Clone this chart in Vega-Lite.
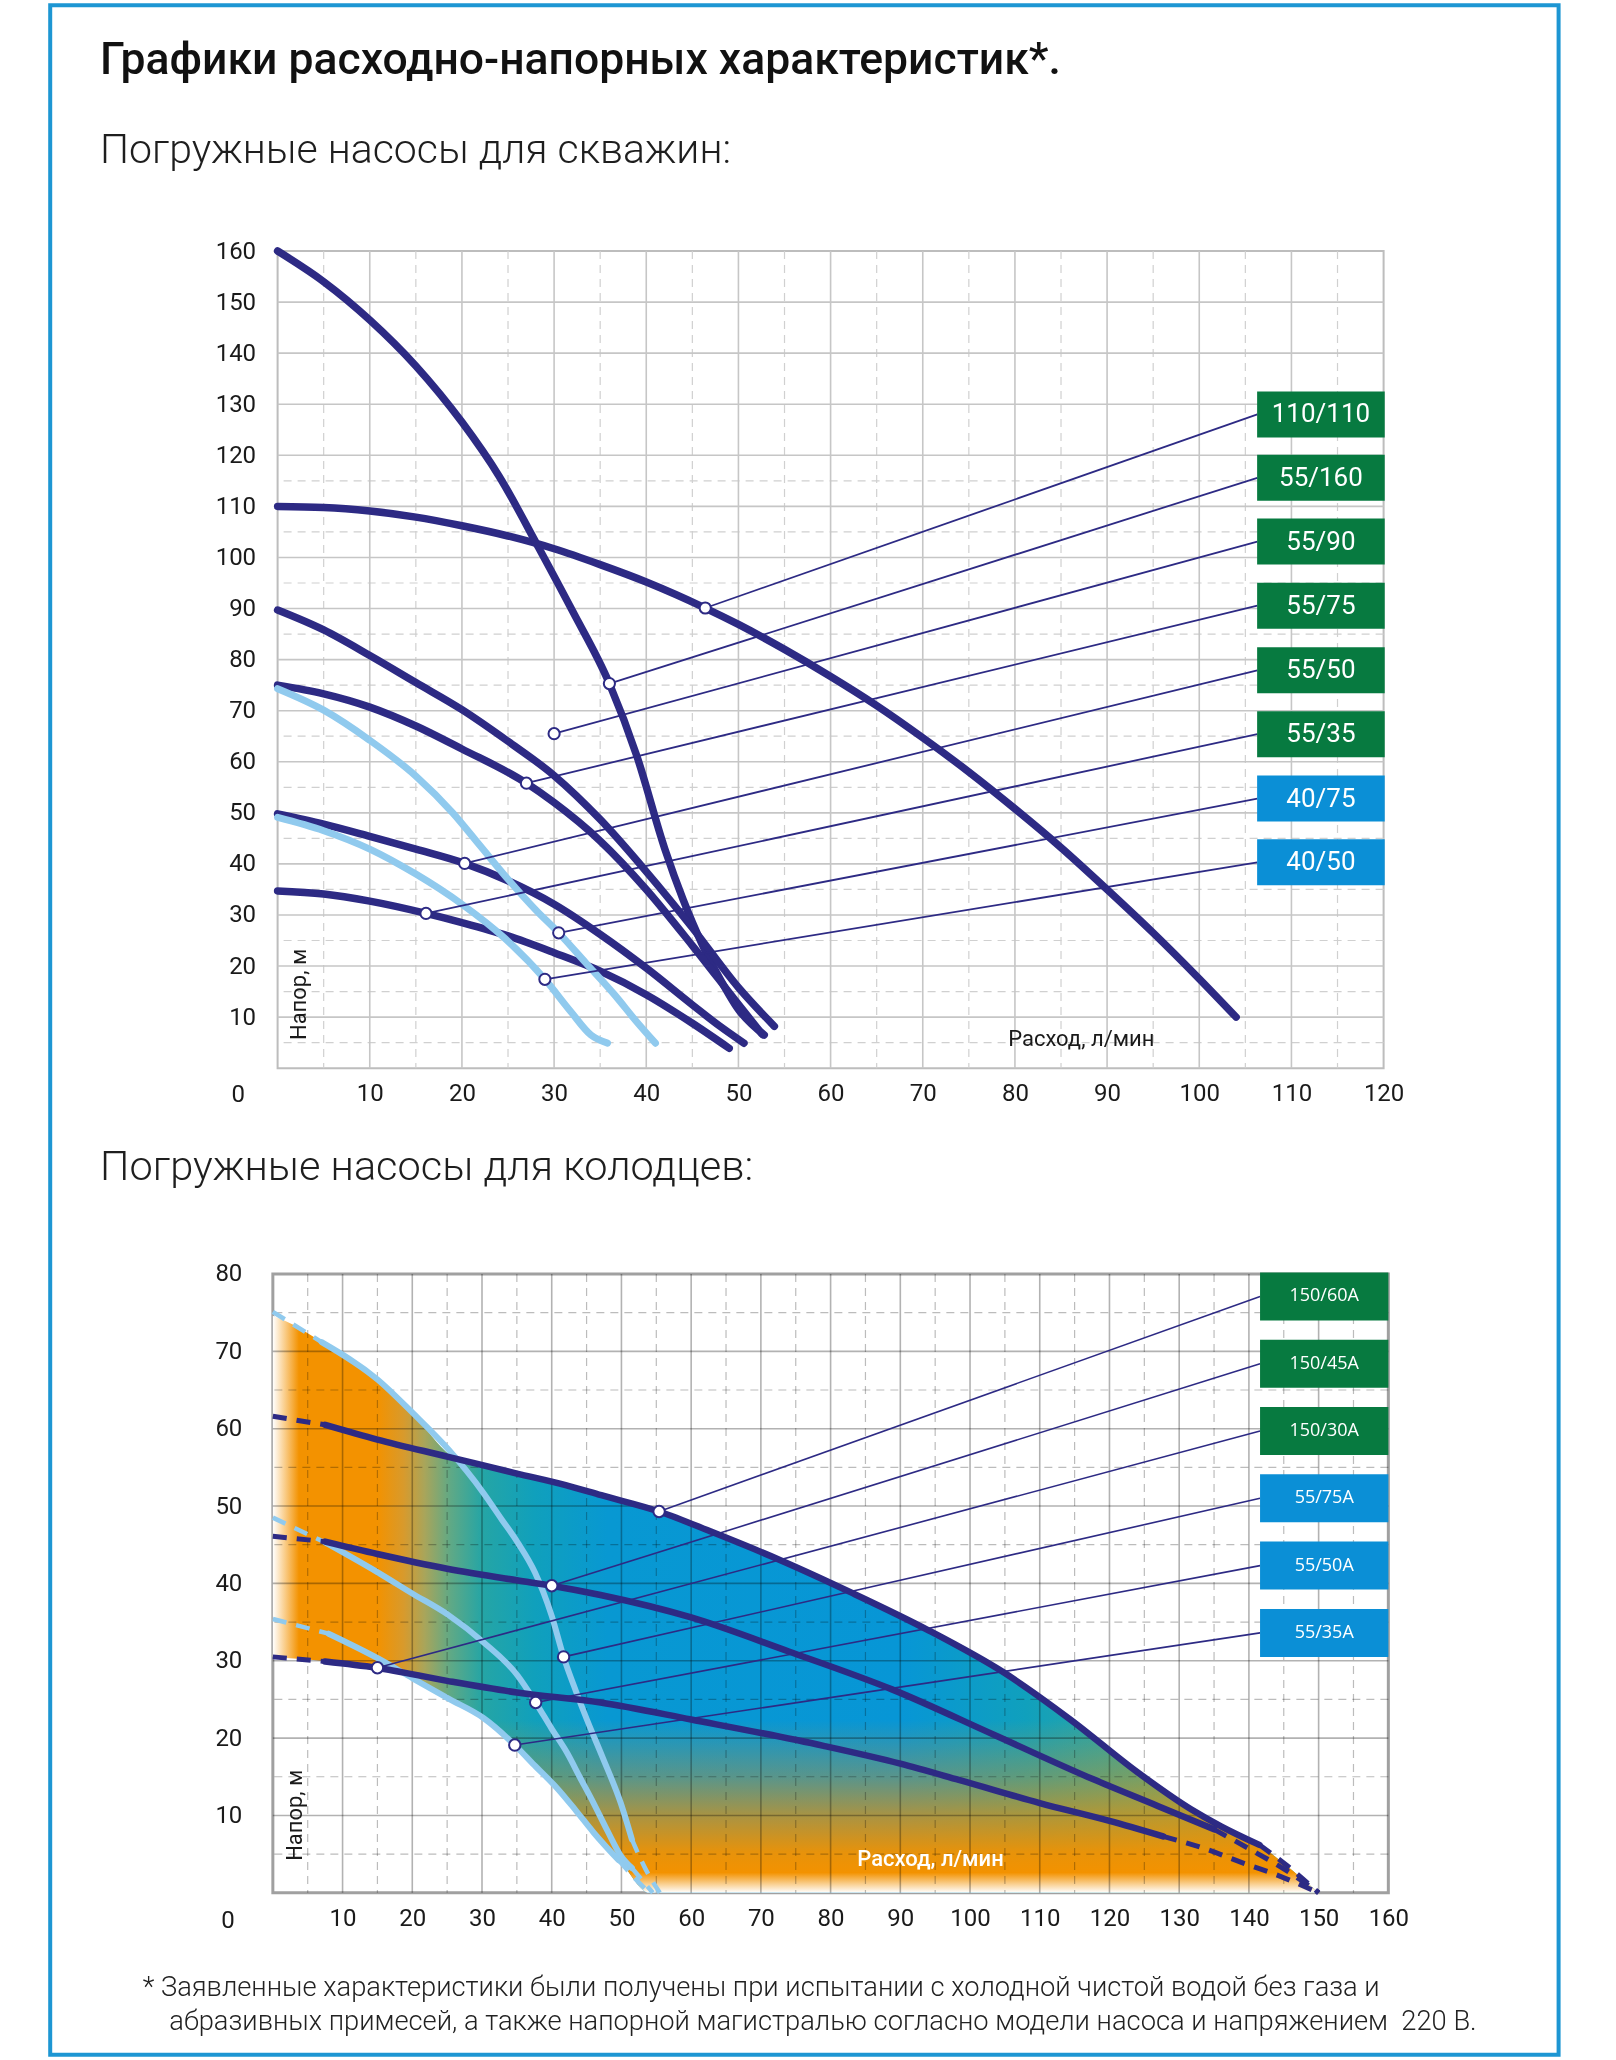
{
  "$schema": "https://vega.github.io/schema/vega-lite/v6.json",
  "padding": {"left": 46.6, "top": 2, "right": 57, "bottom": 5},
  "background": "white",
  "config": {"font": "Roboto", "view": {"stroke": null}},
  "spacing": 205,
  "bounds": "flush",
  "center": true,
  "datasets": {
    "top": [
      {"s":"110/110","q":0,"h":110},{"s":"110/110","q":5,"h":109.8},{"s":"110/110","q":10,"h":109.1},{"s":"110/110","q":15,"h":107.9},{"s":"110/110","q":20,"h":106.2},{"s":"110/110","q":25,"h":104.2},{"s":"110/110","q":30,"h":101.7},{"s":"110/110","q":35,"h":98.6},{"s":"110/110","q":40,"h":95.2},{"s":"110/110","q":46.4,"h":90.1},{"s":"110/110","q":50,"h":86.9},{"s":"110/110","q":55,"h":82},{"s":"110/110","q":60,"h":76.7},{"s":"110/110","q":65,"h":71},{"s":"110/110","q":70,"h":64.7},{"s":"110/110","q":75,"h":58},{"s":"110/110","q":80,"h":50.8},{"s":"110/110","q":85,"h":43.2},{"s":"110/110","q":90,"h":35},{"s":"110/110","q":95,"h":26.5},{"s":"110/110","q":100,"h":17.5},{"s":"110/110","q":104,"h":10},
      {"s":"55/160","q":0,"h":160},{"s":"55/160","q":5,"h":154},{"s":"55/160","q":10,"h":146.5},{"s":"55/160","q":15,"h":137.5},{"s":"55/160","q":20,"h":126.5},{"s":"55/160","q":24,"h":116},{"s":"55/160","q":28.3,"h":102},{"s":"55/160","q":32,"h":89.5},{"s":"55/160","q":36,"h":75.3},{"s":"55/160","q":39,"h":61},{"s":"55/160","q":42,"h":43},{"s":"55/160","q":44,"h":33},{"s":"55/160","q":46,"h":24.5},{"s":"55/160","q":48,"h":17.5},{"s":"55/160","q":50,"h":11.5},{"s":"55/160","q":52.8,"h":6.5},
      {"s":"55/90","q":0,"h":89.7},{"s":"55/90","q":5,"h":85.8},{"s":"55/90","q":10,"h":80.8},{"s":"55/90","q":15,"h":75.5},{"s":"55/90","q":20,"h":70.2},{"s":"55/90","q":25,"h":64},{"s":"55/90","q":30,"h":57.3},{"s":"55/90","q":35,"h":48.7},{"s":"55/90","q":40,"h":38.5},{"s":"55/90","q":45,"h":27.5},{"s":"55/90","q":50,"h":15.8},{"s":"55/90","q":53.9,"h":8.2},
      {"s":"55/75","q":0,"h":75},{"s":"55/75","q":5,"h":73.3},{"s":"55/75","q":10,"h":70.7},{"s":"55/75","q":15,"h":67},{"s":"55/75","q":20,"h":62.5},{"s":"55/75","q":27,"h":55.8},{"s":"55/75","q":30,"h":52},{"s":"55/75","q":35,"h":44.5},{"s":"55/75","q":40,"h":35},{"s":"55/75","q":45,"h":24},{"s":"55/75","q":50,"h":12.5},{"s":"55/75","q":52.6,"h":6.6},
      {"s":"55/50","q":0,"h":49.8},{"s":"55/50","q":5,"h":47.8},{"s":"55/50","q":10,"h":45.4},{"s":"55/50","q":15,"h":42.9},{"s":"55/50","q":20.3,"h":40.1},{"s":"55/50","q":25,"h":36.7},{"s":"55/50","q":30,"h":32.1},{"s":"55/50","q":35,"h":26.2},{"s":"55/50","q":40,"h":19.6},{"s":"55/50","q":45,"h":12.4},{"s":"55/50","q":48,"h":8.2},{"s":"55/50","q":50.6,"h":4.9},
      {"s":"55/35","q":0,"h":34.7},{"s":"55/35","q":5,"h":34.1},{"s":"55/35","q":10,"h":32.7},{"s":"55/35","q":16.1,"h":30.3},{"s":"55/35","q":20,"h":28.5},{"s":"55/35","q":25,"h":25.9},{"s":"55/35","q":30,"h":22.6},{"s":"55/35","q":35,"h":19},{"s":"55/35","q":40,"h":14.4},{"s":"55/35","q":45,"h":8.8},{"s":"55/35","q":49,"h":3.9},
      {"s":"40/75","q":0,"h":74.3},{"s":"40/75","q":5,"h":70.1},{"s":"40/75","q":10,"h":64.2},{"s":"40/75","q":15,"h":57.2},{"s":"40/75","q":19,"h":50},{"s":"40/75","q":22,"h":43.5},{"s":"40/75","q":25,"h":37},{"s":"40/75","q":28,"h":31},{"s":"40/75","q":30.5,"h":26.5},{"s":"40/75","q":33.5,"h":20.5},{"s":"40/75","q":36.5,"h":14.5},{"s":"40/75","q":39,"h":9},{"s":"40/75","q":41,"h":4.9},
      {"s":"40/50","q":0,"h":49.1},{"s":"40/50","q":5,"h":46.5},{"s":"40/50","q":10,"h":42.9},{"s":"40/50","q":15,"h":38},{"s":"40/50","q":20,"h":32.1},{"s":"40/50","q":24.6,"h":25.5},{"s":"40/50","q":29,"h":17.4},{"s":"40/50","q":31.8,"h":11.1},{"s":"40/50","q":34,"h":6.5},{"s":"40/50","q":35.8,"h":4.9}
    ],
    "topLabels": [
      {"model":"110/110","mx":46.4,"my":90.1,"ly":128},
      {"model":"55/160","mx":36,"my":75.3,"ly":115.6},
      {"model":"55/90","mx":30,"my":65.5,"ly":103.1},
      {"model":"55/75","mx":27,"my":55.8,"ly":90.55},
      {"model":"55/50","mx":20.3,"my":40.1,"ly":77.9},
      {"model":"55/35","mx":16.1,"my":30.3,"ly":65.4},
      {"model":"40/75","mx":30.5,"my":26.5,"ly":52.8},
      {"model":"40/50","mx":29,"my":17.4,"ly":40.3}
    ],
    "bot": [
      {"s":"150/60A","seg":"main","q":7.5,"h":60.5},{"s":"150/60A","seg":"main","q":15,"h":58.6},{"s":"150/60A","seg":"main","q":25,"h":56.4},{"s":"150/60A","seg":"main","q":35,"h":54.2},{"s":"150/60A","seg":"main","q":42,"h":52.7},{"s":"150/60A","seg":"main","q":47.1,"h":51.4},{"s":"150/60A","seg":"main","q":55.4,"h":49.3},{"s":"150/60A","seg":"main","q":63.1,"h":46.6},{"s":"150/60A","seg":"main","q":72.8,"h":43},{"s":"150/60A","seg":"main","q":83,"h":38.8},{"s":"150/60A","seg":"main","q":93.9,"h":34},{"s":"150/60A","seg":"main","q":104.8,"h":28.5},{"s":"150/60A","seg":"main","q":114.4,"h":22.4},{"s":"150/60A","seg":"main","q":124,"h":15.6},{"s":"150/60A","seg":"main","q":131.7,"h":10.8},{"s":"150/60A","seg":"main","q":136,"h":8.6},{"s":"150/60A","seg":"main","q":141.5,"h":6.2},
      {"s":"150/60A","seg":"d1","q":0,"h":61.6},{"s":"150/60A","seg":"d1","q":7.5,"h":60.5},
      {"s":"150/60A","seg":"d2","q":141.5,"h":6.2},{"s":"150/60A","seg":"d2","q":145.5,"h":3.5},{"s":"150/60A","seg":"d2","q":150,"h":0},
      {"s":"150/45A","seg":"main","q":7.5,"h":45.4},{"s":"150/45A","seg":"main","q":15,"h":43.8},{"s":"150/45A","seg":"main","q":25,"h":41.9},{"s":"150/45A","seg":"main","q":35,"h":40.4},{"s":"150/45A","seg":"main","q":40,"h":39.7},{"s":"150/45A","seg":"main","q":47,"h":38.5},{"s":"150/45A","seg":"main","q":60,"h":35.6},{"s":"150/45A","seg":"main","q":74,"h":31.2},{"s":"150/45A","seg":"main","q":88.8,"h":26.3},{"s":"150/45A","seg":"main","q":103.5,"h":20.4},{"s":"150/45A","seg":"main","q":117.6,"h":14.7},{"s":"150/45A","seg":"main","q":127,"h":11.2},{"s":"150/45A","seg":"main","q":135,"h":8.2},
      {"s":"150/45A","seg":"d1","q":0,"h":46.1},{"s":"150/45A","seg":"d1","q":7.5,"h":45.4},
      {"s":"150/45A","seg":"d2","q":135,"h":8.2},{"s":"150/45A","seg":"d2","q":140,"h":5.7},{"s":"150/45A","seg":"d2","q":145,"h":3.1},{"s":"150/45A","seg":"d2","q":150,"h":0},
      {"s":"150/30A","seg":"main","q":7.5,"h":29.9},{"s":"150/30A","seg":"main","q":14.8,"h":29.1},{"s":"150/30A","seg":"main","q":25,"h":27.4},{"s":"150/30A","seg":"main","q":35,"h":25.9},{"s":"150/30A","seg":"main","q":47,"h":24.6},{"s":"150/30A","seg":"main","q":60,"h":22.4},{"s":"150/30A","seg":"main","q":79,"h":19},{"s":"150/30A","seg":"main","q":90,"h":16.7},{"s":"150/30A","seg":"main","q":98.4,"h":14.6},{"s":"150/30A","seg":"main","q":110,"h":11.6},{"s":"150/30A","seg":"main","q":120,"h":9.3},{"s":"150/30A","seg":"main","q":127.7,"h":7.3},
      {"s":"150/30A","seg":"d1","q":0,"h":30.5},{"s":"150/30A","seg":"d1","q":7.5,"h":29.9},
      {"s":"150/30A","seg":"d2","q":127.7,"h":7.3},{"s":"150/30A","seg":"d2","q":134,"h":5.6},{"s":"150/30A","seg":"d2","q":139,"h":3.9},{"s":"150/30A","seg":"d2","q":144.6,"h":2.1},{"s":"150/30A","seg":"d2","q":150,"h":0},
      {"s":"55/75A","seg":"main","q":7,"h":71.2},{"s":"55/75A","seg":"main","q":15.1,"h":66.3},{"s":"55/75A","seg":"main","q":20.1,"h":62},{"s":"55/75A","seg":"main","q":25.2,"h":57.3},{"s":"55/75A","seg":"main","q":30.2,"h":51.7},{"s":"55/75A","seg":"main","q":32.8,"h":48.3},{"s":"55/75A","seg":"main","q":35.1,"h":45.3},{"s":"55/75A","seg":"main","q":37.6,"h":41.4},{"s":"55/75A","seg":"main","q":40,"h":35.8},{"s":"55/75A","seg":"main","q":41.7,"h":30.5},{"s":"55/75A","seg":"main","q":43.5,"h":26},{"s":"55/75A","seg":"main","q":45,"h":22.5},{"s":"55/75A","seg":"main","q":47.3,"h":17.5},{"s":"55/75A","seg":"main","q":49.9,"h":11.6},{"s":"55/75A","seg":"main","q":51.5,"h":6.9},
      {"s":"55/75A","seg":"d1","q":0,"h":75.1},{"s":"55/75A","seg":"d1","q":7,"h":71.2},
      {"s":"55/75A","seg":"d2","q":51.5,"h":6.9},{"s":"55/75A","seg":"d2","q":53.5,"h":3},{"s":"55/75A","seg":"d2","q":55.5,"h":0},
      {"s":"55/50A","seg":"main","q":7.5,"h":45.3},{"s":"55/50A","seg":"main","q":15.1,"h":41.4},{"s":"55/50A","seg":"main","q":20,"h":38.7},{"s":"55/50A","seg":"main","q":25.2,"h":35.9},{"s":"55/50A","seg":"main","q":30.2,"h":32.4},{"s":"55/50A","seg":"main","q":35.1,"h":28.1},{"s":"55/50A","seg":"main","q":37.7,"h":24.6},{"s":"55/50A","seg":"main","q":40,"h":21.2},{"s":"55/50A","seg":"main","q":42.2,"h":18.1},{"s":"55/50A","seg":"main","q":44,"h":15},{"s":"55/50A","seg":"main","q":46,"h":11.6},{"s":"55/50A","seg":"main","q":48,"h":8},{"s":"55/50A","seg":"main","q":49.9,"h":4.8},{"s":"55/50A","seg":"main","q":51.5,"h":3.2},
      {"s":"55/50A","seg":"d1","q":0,"h":48.5},{"s":"55/50A","seg":"d1","q":7.5,"h":45.3},
      {"s":"55/50A","seg":"d2","q":51.5,"h":3.2},{"s":"55/50A","seg":"d2","q":54.5,"h":0},
      {"s":"55/35A","seg":"main","q":8,"h":33.5},{"s":"55/35A","seg":"main","q":15.1,"h":30.3},{"s":"55/35A","seg":"main","q":20.1,"h":27.7},{"s":"55/35A","seg":"main","q":25.2,"h":25.1},{"s":"55/35A","seg":"main","q":30.2,"h":22.6},{"s":"55/35A","seg":"main","q":34.7,"h":19.1},{"s":"55/35A","seg":"main","q":37.5,"h":16.5},{"s":"55/35A","seg":"main","q":40.9,"h":13.4},{"s":"55/35A","seg":"main","q":43.5,"h":10.6},{"s":"55/35A","seg":"main","q":46,"h":7.8},{"s":"55/35A","seg":"main","q":49.6,"h":4.2},
      {"s":"55/35A","seg":"d1","q":0,"h":35.4},{"s":"55/35A","seg":"d1","q":8,"h":33.5},
      {"s":"55/35A","seg":"d2","q":49.6,"h":4.2},{"s":"55/35A","seg":"d2","q":52,"h":1.8},{"s":"55/35A","seg":"d2","q":54,"h":0}
    ],
    "botLabels": [
      {"model":"150/60A","mx":55.4,"my":49.3,"ly":77.1},
      {"model":"150/45A","mx":40,"my":39.7,"ly":68.4},
      {"model":"150/30A","mx":15,"my":29.1,"ly":59.7},
      {"model":"55/75A","mx":41.7,"my":30.5,"ly":51.0},
      {"model":"55/50A","mx":37.7,"my":24.6,"ly":42.3},
      {"model":"55/35A","mx":34.7,"my":19.1,"ly":33.6}
    ],
    "fill": [
      {"q":0,"top":74.6,"bot":30.5},{"q":3,"top":73.4,"bot":30.3},{"q":7,"top":71.2,"bot":30.0},{"q":10,"top":69.5,"bot":29.7},{"q":14.8,"top":66.4,"bot":29.1},{"q":17,"top":64.5,"bot":29.1},{"q":20,"top":62.0,"bot":27.7},{"q":25.5,"top":56.6,"bot":24.8},{"q":30,"top":55.3,"bot":22.7},{"q":35,"top":54.2,"bot":18.9},{"q":40,"top":53.1,"bot":14.2},{"q":45,"top":51.9,"bot":8.8},{"q":50,"top":50.7,"bot":3.9},{"q":54,"top":49.7,"bot":0},{"q":63.1,"top":46.6,"bot":0},{"q":72.8,"top":43,"bot":0},{"q":83,"top":38.8,"bot":0},{"q":93.9,"top":34,"bot":0},{"q":104.8,"top":28.5,"bot":0},{"q":114.4,"top":22.4,"bot":0},{"q":124,"top":15.6,"bot":0},{"q":131.7,"top":10.8,"bot":0},{"q":136,"top":8.6,"bot":0},{"q":141.5,"top":6.2,"bot":0},{"q":145,"top":3.8,"bot":0},{"q":150,"top":0,"bot":0}
    ]
  },
  "vconcat": [
    {
      "width": 1106,
      "height": 817.2,
      "view": {"stroke": "#bdbdbd", "strokeWidth": 2},
      "title": {
        "text": "Графики расходно-напорных характеристик*.",
        "subtitle": "Погружные насосы для скважин:",
        "anchor": "start", "frame": "group", "dx": -177.6, "offset": -169,
        "font": "Roboto", "fontSize": 44.5, "fontWeight": 500, "color": "#111111",
        "subtitleFont": "Roboto", "subtitleFontSize": 41, "subtitleFontWeight": 300, "subtitleColor": "#1e1e1e",
        "subtitlePadding": 48
      },
      "layer": [
        {
          "data": {"values": [{}]},
          "mark": {"type": "rect", "filled": false, "stroke": "#1d96d3", "strokeWidth": 4},
          "encoding": {
            "x": {"datum": -24.672, "type": "quantitative", "scale": {"domain": [0, 120], "nice": false, "zero": false},
              "axis": {"values": [10,20,30,40,50,60,70,80,90,100,110,120], "title": null, "grid": false, "domain": false, "ticks": false, "labelFontSize": 24, "labelColor": "#1a1a1a", "labelPadding": 13, "labelFlush": false}},
            "x2": {"datum": 138.987},
            "y": {"datum": 208.14, "type": "quantitative", "scale": {"domain": [0, 160], "nice": false, "zero": false},
              "axis": {"values": [0,10,20,30,40,50,60,70,80,90,100,110,120,130,140,150,160], "title": null, "grid": false, "domain": false, "ticks": false, "labelFontSize": 24, "labelColor": "#1a1a1a", "labelFlush": false,
                "labelPadding": {"condition": {"test": "datum.value === 0", "value": 33}, "value": 22},
                "labelOffset": {"condition": {"test": "datum.value === 0", "value": 26}, "value": 0}}},
            "y2": {"datum": -193.14}
          }
        },
        {
          "data": {"values": [{"v":5},{"v":15},{"v":25},{"v":35},{"v":45},{"v":55},{"v":65},{"v":75},{"v":85},{"v":95},{"v":105},{"v":115}]},
          "mark": {"type": "rule", "color": "#d0d0d0", "strokeWidth": 1.2, "strokeDash": [8, 6]},
          "encoding": {"x": {"field": "v", "type": "quantitative"}}
        },
        {
          "data": {"values": [{"v":5},{"v":15},{"v":25},{"v":35},{"v":45},{"v":55},{"v":65},{"v":75},{"v":85},{"v":95},{"v":105},{"v":115}]},
          "mark": {"type": "rule", "color": "#d0d0d0", "strokeWidth": 1.2, "strokeDash": [8, 6]},
          "encoding": {"y": {"field": "v", "type": "quantitative"}}
        },
        {
          "data": {"values": [{"v":10},{"v":20},{"v":30},{"v":40},{"v":50},{"v":60},{"v":70},{"v":80},{"v":90},{"v":100},{"v":110}]},
          "mark": {"type": "rule", "color": "#c6c6c6", "strokeWidth": 1.6},
          "encoding": {"x": {"field": "v", "type": "quantitative"}}
        },
        {
          "data": {"values": [{"v":10},{"v":20},{"v":30},{"v":40},{"v":50},{"v":60},{"v":70},{"v":80},{"v":90},{"v":100},{"v":110},{"v":120},{"v":130},{"v":140},{"v":150}]},
          "mark": {"type": "rule", "color": "#c6c6c6", "strokeWidth": 1.6},
          "encoding": {"y": {"field": "v", "type": "quantitative"}}
        },
        {
          "data": {"name": "top"},
          "transform": [{"filter": {"field": "s", "oneOf": ["110/110", "55/160", "55/90", "55/75", "55/50", "55/35"]}}],
          "mark": {"type": "line", "color": "#2d2a84", "strokeWidth": 7.5, "strokeCap": "round", "interpolate": "monotone"},
          "encoding": {
            "x": {"field": "q", "type": "quantitative"},
            "y": {"field": "h", "type": "quantitative"},
            "detail": {"field": "s"}
          }
        },
        {
          "data": {"name": "top"},
          "transform": [{"filter": {"field": "s", "oneOf": ["40/75", "40/50"]}}],
          "mark": {"type": "line", "color": "#90caee", "strokeWidth": 7, "strokeCap": "round", "interpolate": "monotone"},
          "encoding": {
            "x": {"field": "q", "type": "quantitative"},
            "y": {"field": "h", "type": "quantitative"},
            "detail": {"field": "s"}
          }
        },
        {
          "data": {"name": "topLabels"},
          "mark": {"type": "rule", "color": "#2d2a84", "strokeWidth": 1.8},
          "encoding": {
            "x": {"field": "mx", "type": "quantitative"},
            "y": {"field": "my", "type": "quantitative"},
            "x2": {"datum": 106.3},
            "y2": {"field": "ly"}
          }
        },
        {
          "data": {"name": "topLabels"},
          "mark": {"type": "point", "shape": "circle", "filled": true, "fill": "white", "stroke": "#2d2a84", "strokeWidth": 2, "size": 125, "opacity": 1},
          "encoding": {
            "x": {"field": "mx", "type": "quantitative"},
            "y": {"field": "my", "type": "quantitative"}
          }
        },
        {
          "data": {"name": "topLabels"},
          "transform": [{"filter": {"field": "model", "oneOf": ["110/110", "55/160", "55/90", "55/75", "55/50", "55/35"]}}],
          "mark": {"type": "point", "shape": "M-1,-0.3605H1V0.3605H-1Z", "size": 16282, "filled": true, "color": "#077a40", "opacity": 1, "strokeWidth": 0},
          "encoding": {
            "x": {"datum": 113.2, "type": "quantitative"},
            "y": {"field": "ly", "type": "quantitative"}
          }
        },
        {
          "data": {"name": "topLabels"},
          "transform": [{"filter": {"field": "model", "oneOf": ["40/75", "40/50"]}}],
          "mark": {"type": "point", "shape": "M-1,-0.3605H1V0.3605H-1Z", "size": 16282, "filled": true, "color": "#0b8fd6", "opacity": 1, "strokeWidth": 0},
          "encoding": {
            "x": {"datum": 113.2, "type": "quantitative"},
            "y": {"field": "ly", "type": "quantitative"}
          }
        },
        {
          "data": {"name": "topLabels"},
          "mark": {"type": "text", "color": "white", "fontSize": 26, "align": "center", "baseline": "middle", "font": "Roboto"},
          "encoding": {
            "x": {"datum": 113.2, "type": "quantitative"},
            "y": {"field": "ly", "type": "quantitative"},
            "text": {"field": "model"}
          }
        },
        {
          "data": {"values": [{}]},
          "mark": {"type": "text", "text": "Расход, л/мин", "color": "#1a1a1a", "fontSize": 22, "align": "center", "baseline": "middle"},
          "encoding": {"x": {"datum": 87.2, "type": "quantitative"}, "y": {"datum": 5.66, "type": "quantitative"}}
        },
        {
          "data": {"values": [{}]},
          "mark": {"type": "text", "text": "Напор, м", "color": "#1a1a1a", "fontSize": 22, "align": "center", "baseline": "middle", "angle": 270},
          "encoding": {"x": {"datum": 2.28, "type": "quantitative"}, "y": {"datum": 14.45, "type": "quantitative"}}
        }
      ]
    },
    {
      "width": 1115.5,
      "height": 618.8,
      "view": {"stroke": "#a0a0a0", "strokeWidth": 3},
      "title": {
        "text": "Погружные насосы для колодцев:",
        "anchor": "start", "frame": "group", "dx": -172.8, "offset": 40, "baseline": "alphabetic",
        "font": "Roboto", "fontSize": 41.5, "fontWeight": 300, "color": "#1e1e1e"
      },
      "layer": [
        {
          "data": {"name": "fill"},
          "mark": {"type": "area", "interpolate": "monotone", "opacity": 1,
            "fill": {"gradient": "linear", "x1": 0, "y1": 0, "x2": 1, "y2": 0, "stops": [
              {"offset": 0, "color": "#ffffff"},
              {"offset": 0.025, "color": "#f39200"},
              {"offset": 0.1, "color": "#f39200"},
              {"offset": 0.125, "color": "#d89a2c"},
              {"offset": 0.145, "color": "#a9a55a"},
              {"offset": 0.17, "color": "#5fa986"},
              {"offset": 0.2, "color": "#25a5a5"},
              {"offset": 0.25, "color": "#10a0bc"},
              {"offset": 0.32, "color": "#0898d2"},
              {"offset": 0.6, "color": "#0796d6"},
              {"offset": 0.72, "color": "#10a0bd"},
              {"offset": 0.85, "color": "#3aa896"},
              {"offset": 1, "color": "#6aa870"}
            ]}},
          "encoding": {
            "x": {"field": "q", "type": "quantitative", "scale": {"domain": [0, 160], "nice": false, "zero": false},
              "axis": {"values": [10,20,30,40,50,60,70,80,90,100,110,120,130,140,150,160], "grid": false, "domain": false, "ticks": false, "labelFontSize": 24, "labelColor": "#1a1a1a", "labelPadding": 14, "labelFlush": false,
                "title": ["* Заявленные характеристики были получены при испытании с холодной чистой водой без газа и", "\u200b\u00a0\u00a0\u00a0\u00a0абразивных примесей, а также напорной магистралью согласно модели насоса и напряжением\u00a0 220 В."],
                "titleX": -130.65, "titleY": 103, "titleAlign": "left", "titleBaseline": "alphabetic", "titleFont": "Roboto", "titleFontSize": 27.3, "titleFontWeight": 300, "titleLineHeight": 34, "titleColor": "#222222"}},
            "y": {"field": "top", "type": "quantitative", "scale": {"domain": [0, 80], "nice": false, "zero": false},
              "axis": {"values": [0,10,20,30,40,50,60,70,80], "title": null, "grid": false, "domain": false, "ticks": false, "labelFontSize": 24, "labelColor": "#1a1a1a", "labelFlush": false,
                "labelPadding": {"condition": {"test": "datum.value === 0", "value": 38.5}, "value": 31},
                "labelOffset": {"condition": {"test": "datum.value === 0", "value": 27.4}, "value": 0}}},
            "y2": {"field": "bot"}
          }
        },
        {
          "data": {"name": "fill"},
          "mark": {"type": "area", "interpolate": "monotone", "opacity": 1,
            "fill": {"gradient": "linear", "x1": 0, "y1": 0, "x2": 0, "y2": 1, "stops": [
              {"offset": 0, "color": "rgba(243,146,0,0)"},
              {"offset": 0.7, "color": "rgba(243,146,0,0)"},
              {"offset": 0.8, "color": "rgba(243,146,0,0.35)"},
              {"offset": 0.87, "color": "rgba(243,146,0,0.7)"},
              {"offset": 0.93, "color": "rgba(243,146,0,0.95)"},
              {"offset": 0.965, "color": "rgba(243,146,0,1)"},
              {"offset": 1, "color": "rgba(255,255,255,1)"}
            ]}},
          "encoding": {
            "x": {"field": "q", "type": "quantitative"},
            "y": {"field": "top", "type": "quantitative"},
            "y2": {"field": "bot"}
          }
        },
        {
          "data": {"values": [{"v":5},{"v":15},{"v":25},{"v":35},{"v":45},{"v":55},{"v":65},{"v":75},{"v":85},{"v":95},{"v":105},{"v":115},{"v":125},{"v":135},{"v":145},{"v":155}]},
          "mark": {"type": "rule", "color": "#bcbcbc", "strokeWidth": 1.2, "strokeDash": [8, 6], "blend": "multiply"},
          "encoding": {"x": {"field": "v", "type": "quantitative"}}
        },
        {
          "data": {"values": [{"v":5},{"v":15},{"v":25},{"v":35},{"v":45},{"v":55},{"v":65},{"v":75}]},
          "mark": {"type": "rule", "color": "#bcbcbc", "strokeWidth": 1.2, "strokeDash": [8, 6], "blend": "multiply"},
          "encoding": {"y": {"field": "v", "type": "quantitative"}}
        },
        {
          "data": {"values": [{"v":10},{"v":20},{"v":30},{"v":40},{"v":50},{"v":60},{"v":70},{"v":80},{"v":90},{"v":100},{"v":110},{"v":120},{"v":130},{"v":140},{"v":150}]},
          "mark": {"type": "rule", "color": "#b2b2b2", "strokeWidth": 1.6, "blend": "multiply"},
          "encoding": {"x": {"field": "v", "type": "quantitative"}}
        },
        {
          "data": {"values": [{"v":10},{"v":20},{"v":30},{"v":40},{"v":50},{"v":60},{"v":70}]},
          "mark": {"type": "rule", "color": "#b2b2b2", "strokeWidth": 1.6, "blend": "multiply"},
          "encoding": {"y": {"field": "v", "type": "quantitative"}}
        },
        {
          "data": {"name": "bot"},
          "transform": [{"filter": {"field": "s", "oneOf": ["55/75A", "55/50A", "55/35A"]}}, {"filter": "datum.seg === 'main'"}],
          "mark": {"type": "line", "color": "#90caee", "strokeWidth": 6, "strokeCap": "round", "interpolate": "monotone"},
          "encoding": {
            "x": {"field": "q", "type": "quantitative"},
            "y": {"field": "h", "type": "quantitative"},
            "detail": {"field": "s"}
          }
        },
        {
          "data": {"name": "bot"},
          "transform": [{"filter": {"field": "s", "oneOf": ["55/75A", "55/50A", "55/35A"]}}, {"filter": "datum.seg !== 'main'"}],
          "mark": {"type": "line", "color": "#90caee", "strokeWidth": 4.5, "strokeDash": [14, 10], "interpolate": "monotone"},
          "encoding": {
            "x": {"field": "q", "type": "quantitative"},
            "y": {"field": "h", "type": "quantitative"},
            "detail": [{"field": "s"}, {"field": "seg"}]
          }
        },
        {
          "data": {"name": "bot"},
          "transform": [{"filter": {"field": "s", "oneOf": ["150/60A", "150/45A", "150/30A"]}}, {"filter": "datum.seg === 'main'"}],
          "mark": {"type": "line", "color": "#2d2a84", "strokeWidth": 6.5, "strokeCap": "round", "interpolate": "monotone"},
          "encoding": {
            "x": {"field": "q", "type": "quantitative"},
            "y": {"field": "h", "type": "quantitative"},
            "detail": {"field": "s"}
          }
        },
        {
          "data": {"name": "bot"},
          "transform": [{"filter": {"field": "s", "oneOf": ["150/60A", "150/45A", "150/30A"]}}, {"filter": "datum.seg !== 'main'"}],
          "mark": {"type": "line", "color": "#2d2a84", "strokeWidth": 5, "strokeDash": [14, 10], "interpolate": "monotone"},
          "encoding": {
            "x": {"field": "q", "type": "quantitative"},
            "y": {"field": "h", "type": "quantitative"},
            "detail": [{"field": "s"}, {"field": "seg"}]
          }
        },
        {
          "data": {"name": "botLabels"},
          "mark": {"type": "rule", "color": "#2d2a84", "strokeWidth": 1.6},
          "encoding": {
            "x": {"field": "mx", "type": "quantitative"},
            "y": {"field": "my", "type": "quantitative"},
            "x2": {"datum": 141.6},
            "y2": {"field": "ly"}
          }
        },
        {
          "data": {"name": "botLabels"},
          "mark": {"type": "point", "shape": "circle", "filled": true, "fill": "white", "stroke": "#2d2a84", "strokeWidth": 2, "size": 130, "opacity": 1},
          "encoding": {
            "x": {"field": "mx", "type": "quantitative"},
            "y": {"field": "my", "type": "quantitative"}
          }
        },
        {
          "data": {"name": "botLabels"},
          "transform": [{"filter": {"field": "model", "oneOf": ["150/60A", "150/45A", "150/30A"]}}],
          "mark": {"type": "point", "shape": "M-1,-0.374H1V0.374H-1Z", "size": 16461, "filled": true, "color": "#077a40", "opacity": 1, "strokeWidth": 0},
          "encoding": {
            "x": {"datum": 150.8, "type": "quantitative"},
            "y": {"field": "ly", "type": "quantitative"}
          }
        },
        {
          "data": {"name": "botLabels"},
          "transform": [{"filter": {"field": "model", "oneOf": ["55/75A", "55/50A", "55/35A"]}}],
          "mark": {"type": "point", "shape": "M-1,-0.374H1V0.374H-1Z", "size": 16461, "filled": true, "color": "#0b8fd6", "opacity": 1, "strokeWidth": 0},
          "encoding": {
            "x": {"datum": 150.8, "type": "quantitative"},
            "y": {"field": "ly", "type": "quantitative"}
          }
        },
        {
          "data": {"name": "botLabels"},
          "mark": {"type": "text", "color": "white", "fontSize": 18, "align": "center", "baseline": "middle", "font": "Open Sans"},
          "encoding": {
            "x": {"datum": 150.8, "type": "quantitative"},
            "y": {"field": "ly", "type": "quantitative"},
            "text": {"field": "model"}
          }
        },
        {
          "data": {"values": [{}]},
          "mark": {"type": "text", "text": "Расход, л/мин", "color": "white", "fontSize": 22, "fontWeight": 500, "align": "center", "baseline": "middle"},
          "encoding": {"x": {"datum": 94.33, "type": "quantitative"}, "y": {"datum": 4.42, "type": "quantitative"}}
        },
        {
          "data": {"values": [{}]},
          "mark": {"type": "text", "text": "Напор, м", "color": "#1a1a1a", "fontSize": 22, "align": "center", "baseline": "middle", "angle": 270},
          "encoding": {"x": {"datum": 3.12, "type": "quantitative"}, "y": {"datum": 10.03, "type": "quantitative"}}
        }
      ]
    }
  ]
}
